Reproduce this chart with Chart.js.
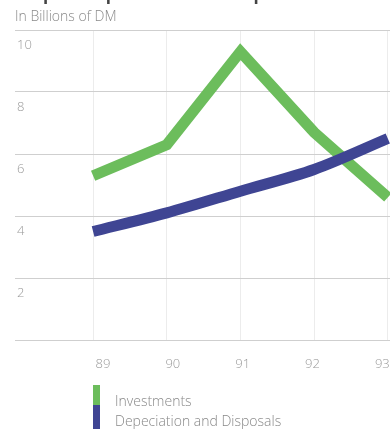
<!DOCTYPE html>
<html>
<head>
<meta charset="utf-8">
<script src="https://cdn.jsdelivr.net/npm/chart.js@4.4.1/dist/chart.umd.min.js"></script>
<style>
  html, body { margin: 0; padding: 0; background: #fff; }
  #wrap { width: 390px; height: 433px; position: relative; }
</style>
</head>
<body>
<div id="wrap"><canvas id="chart" width="390" height="433"></canvas></div>
<script>
// years (19xx) and values in billions of DM
const years = [89, 90, 91, 92, 93]
const investments = [5.3, 6.3, 9.3, 6.7, 4.6]
const depreciation = [3.5, 4.1, 4.8, 5.5, 6.5]
const yTicks = [0, 2, 4, 6, 8, 10]

const title = "Capital Expenditure and Depreciation"
const subtitle = "In Billions of DM"
const seriesNames = ["Investments", "Depeciation and Disposals"]

const green = "#6cbd5c"
const blue = "#3f4593"
const textGrey = "#9a9a9a"
const font = '"Open Sans", Lato, sans-serif'

function points(vals){
    return years.map((y, i) => ({x: y, y: vals[i]}))
}

// title, unit line and the stacked legend below the plot
const extras = {
    id: "extras",
    afterDraw(chart){
        const ctx = chart.ctx
        ctx.save()
        ctx.fillStyle = "#444"
        ctx.font = "bold 17px " + font
        ctx.textBaseline = "alphabetic"
        ctx.fillText(title, 22, 0)

        ctx.fillStyle = "#8a8a8a"
        ctx.font = "300 14px " + font
        ctx.textBaseline = "middle"
        ctx.fillText(subtitle, 15, 17)

        chart.data.datasets.forEach((ds, i) => {
            const ty = 402 + i * 20
            ctx.fillStyle = ds.borderColor
            ctx.fillRect(93, 385 + i * 20, 7, 20 + i * 4)
            ctx.fillStyle = "#888"
            ctx.font = "300 14px " + font
            ctx.fillText(ds.label, 115, ty)
        })
        ctx.restore()
    }
}

new Chart(document.getElementById("chart"), {
    type: "line",
    data: {
        datasets: [{
            label: seriesNames[0],
            data: points(investments),
            borderColor: green,
            backgroundColor: green,
            borderWidth: 11,
            borderJoinStyle: "miter",
            tension: 0,
            pointRadius: 0,
            order: 1
        }, {
            label: seriesNames[1],
            data: points(depreciation),
            borderColor: blue,
            backgroundColor: blue,
            borderWidth: 11,
            tension: 0.3,
            pointRadius: 0,
            order: 0
        }]
    },
    options: {
        responsive: false,
        animation: false,
        events: [],
        layout: { padding: { left: 15, top: 30, right: 0, bottom: 0 } },
        plugins: {
            legend: { display: false },
            tooltip: { enabled: false }
        },
        scales: {
            x: {
                type: "linear",
                position: "bottom",
                min: 87.94,
                max: 93.03,
                afterBuildTicks: s => { s.ticks = years.map(v => ({value: v})) },
                afterFit: s => { s.height = 0; s.paddingLeft = 0; s.paddingRight = 0 },
                ticks: { display: false },
                border: { display: false },
                grid: { color: "#ececec", lineWidth: 1, drawTicks: false },
            },
            // year labels sit on their own axis under the plot
            xl: {
                type: "linear",
                position: "bottom",
                min: 87.74,
                max: 93.11,
                afterBuildTicks: s => { s.ticks = years.map(v => ({value: v})) },
                afterFit: s => { s.height = 93; s.paddingLeft = 0; s.paddingRight = 0 },
                ticks: {
                    color: textGrey,
                    padding: 8,
                    maxRotation: 0,
                    font: { family: font, size: 13, weight: 300 },
                    callback: v => String(v)
                },
                border: { display: false },
                grid: { display: false }
            },
            y: {
                min: 0,
                max: 10,
                afterBuildTicks: s => { s.ticks = yTicks.map(v => ({value: v})) },
                afterFit: s => { s.width = 0 },
                ticks: {
                    mirror: true,
                    padding: 2,
                    labelOffset: 15,
                    color: textGrey,
                    font: { family: font, size: 13, weight: 300 },
                    callback: v => v === 0 ? "" : String(v)
                },
                border: { display: false },
                grid: { color: "#cfcfcf", lineWidth: 1, drawTicks: false }
            }
        }
    },
    plugins: [extras]
})
</script>
</body>
</html>
